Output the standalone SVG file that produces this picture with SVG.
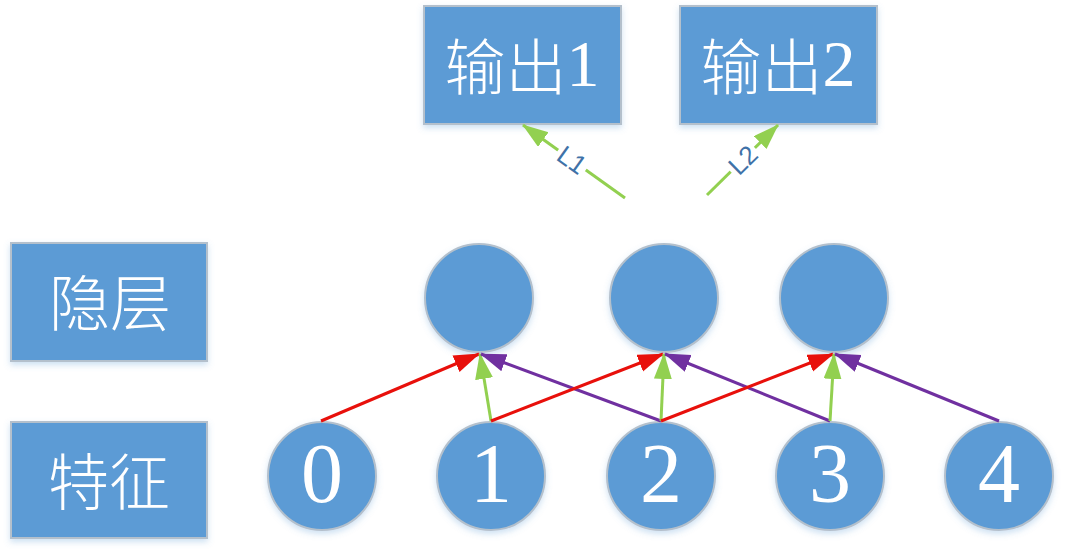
<svg xmlns="http://www.w3.org/2000/svg" width="1066" height="557" viewBox="0 0 1066 557">
<style>
.box{fill:#5b9bd5;stroke:#b4c0cc;stroke-width:2;filter:url(#sh)}
.node{fill:#5b9bd5;stroke:#b4c0cc;stroke-width:2;filter:url(#sh)}
.cjk{font-family:"Noto Sans CJK SC","Noto Sans CJK TC",sans-serif;font-size:61px;font-weight:300;fill:#ffffff;text-anchor:middle;dominant-baseline:central}
.num{font-family:"Liberation Serif","DejaVu Serif",serif;font-size:84px;fill:#ffffff;text-anchor:middle}
.red{stroke:#e8100b;stroke-width:3;fill:none;marker-end:url(#ar)}
.grn{stroke:#92d050;stroke-width:3;fill:none;marker-end:url(#ag)}
.pur{stroke:#7030a0;stroke-width:3;fill:none;marker-end:url(#ap)}
.lbl{font-family:"Liberation Sans",Arial,sans-serif;font-size:26px;fill:#3f72a8;text-anchor:middle;dominant-baseline:central}
.gap{fill:#ffffff}
</style>
<defs>
<filter id="sh" x="-20%" y="-20%" width="140%" height="150%">
<feDropShadow dx="0" dy="3" stdDeviation="3" flood-color="#5b9bd5" flood-opacity="0.3"/>
</filter>
<marker id="ar" markerUnits="userSpaceOnUse" markerWidth="28" markerHeight="20" refX="25" refY="9" orient="auto"><path d="M0,0 L26,9 L0,18 z" fill="#e8100b"/></marker>
<marker id="ag" markerUnits="userSpaceOnUse" markerWidth="28" markerHeight="20" refX="25" refY="9" orient="auto"><path d="M0,0 L26,9 L0,18 z" fill="#92d050"/></marker>
<marker id="ap" markerUnits="userSpaceOnUse" markerWidth="28" markerHeight="20" refX="25" refY="9" orient="auto"><path d="M0,0 L26,9 L0,18 z" fill="#7030a0"/></marker>
</defs>
<rect width="1066" height="557" fill="#ffffff"/>

<g id="out1"><rect class="box" x="424" y="6" width="197" height="118"/><text class="cjk" x="522" y="63">输出<tspan font-family="Liberation Serif, serif" font-size="66">1</tspan></text></g>
<g id="out2"><rect class="box" x="680" y="6" width="197" height="118"/><text class="cjk" x="778" y="63">输出<tspan font-family="Liberation Serif, serif" font-size="66">2</tspan></text></g>
<g id="lab-hidden"><rect class="box" x="11" y="243" width="196" height="118"/><text class="cjk" x="110" y="299">隐层</text></g>
<g id="lab-feat"><rect class="box" x="11" y="422" width="196" height="116"/><text class="cjk" x="109" y="478">特征</text></g>

<g id="h1"><circle class="node" cx="479" cy="298" r="54"/></g>
<g id="h2"><circle class="node" cx="664" cy="298" r="54"/></g>
<g id="h3"><circle class="node" cx="834" cy="298" r="54"/></g>

<g id="f0"><circle class="node" cx="322" cy="476" r="54"/><text class="num" x="322" y="502">0</text></g>
<g id="f1"><circle class="node" cx="491" cy="476" r="54"/><text class="num" x="491" y="502">1</text></g>
<g id="f2"><circle class="node" cx="661" cy="476" r="54"/><text class="num" x="661" y="502">2</text></g>
<g id="f3"><circle class="node" cx="830" cy="476" r="54"/><text class="num" x="830" y="502">3</text></g>
<g id="f4"><circle class="node" cx="999" cy="476" r="54"/><text class="num" x="999" y="502">4</text></g>

<g id="connectors">
<line class="red" x1="321" y1="421" x2="479" y2="354"/>
<line class="grn" x1="491" y1="421" x2="480" y2="354"/>
<line class="pur" x1="661" y1="421" x2="481" y2="354"/>
<line class="red" x1="491" y1="421" x2="663" y2="354"/>
<line class="grn" x1="661" y1="421" x2="664" y2="354"/>
<line class="pur" x1="830" y1="421" x2="665" y2="354"/>
<line class="red" x1="661" y1="421" x2="833" y2="354"/>
<line class="grn" x1="830" y1="421" x2="834" y2="354"/>
<line class="pur" x1="999" y1="421" x2="835" y2="354"/>
<line class="grn" x1="625" y1="198" x2="523" y2="125"/>
<line class="grn" x1="707" y1="195" x2="778" y2="125"/>
<g transform="translate(572,160) rotate(35.6)"><rect class="gap" x="-17" y="-9" width="34" height="18"/><text class="lbl" x="0" y="0">L1</text></g>
<g transform="translate(743,160) rotate(-44.6)"><rect class="gap" x="-17" y="-9" width="34" height="18"/><text class="lbl" x="0" y="0">L2</text></g>
</g>
</svg>
